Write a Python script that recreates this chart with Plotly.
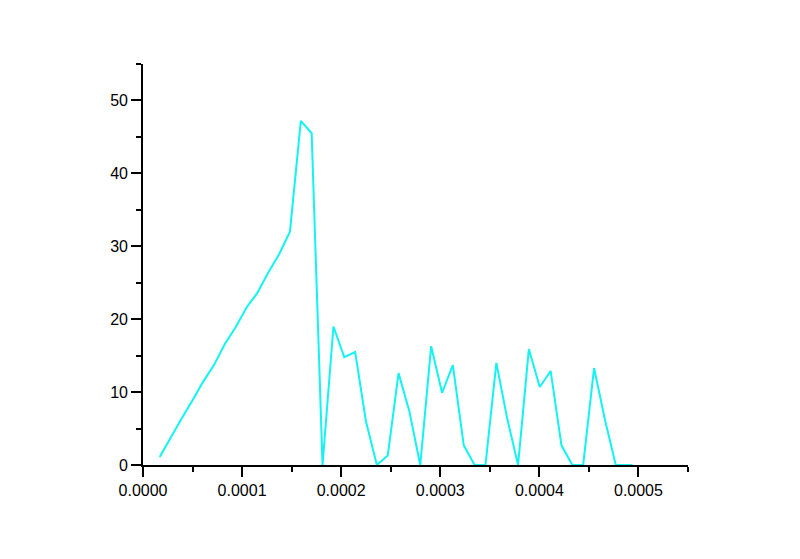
import plotly.graph_objects as go

# x positions (seconds)
x_vals = [
    0.0000168, 0.0000278, 0.0000387, 0.0000497, 0.0000606, 0.0000716,
    0.0000826, 0.0000935, 0.0001045, 0.0001154, 0.0001264, 0.0001374,
    0.0001483, 0.0001593, 0.0001702, 0.0001812, 0.0001922, 0.0002031,
    0.0002141, 0.0002250, 0.0002360, 0.0002470, 0.0002579, 0.0002689,
    0.0002798, 0.0002908, 0.0003018, 0.0003127, 0.0003237, 0.0003346,
    0.0003456, 0.0003566, 0.0003675, 0.0003785, 0.0003894, 0.0004004,
    0.0004114, 0.0004223, 0.0004333, 0.0004442, 0.0004552, 0.0004662,
    0.0004771, 0.0004940,
]
y_vals = [
    1.1, 3.8, 6.3, 8.8, 11.4, 13.7,
    16.6, 18.9, 21.6, 23.6, 26.4, 28.9,
    32.0, 47.2, 45.5, 0.0, 19.0, 14.8,
    15.5, 6.0, 0.0, 1.3, 12.6, 7.3,
    0.0, 16.3, 9.9, 13.7, 2.7, 0.0,
    0.0, 14.0, 6.4, 0.0, 15.9, 10.7,
    12.9, 2.7, 0.0, 0.0, 13.3, 6.2,
    0.0, 0.0,
]
x_ticks = [0.0, 0.0001, 0.0002, 0.0003, 0.0004, 0.0005]
x_tick_labels = ["0.0000", "0.0001", "0.0002", "0.0003", "0.0004", "0.0005"]
x_minor_ticks = [0.00005, 0.00015, 0.00025, 0.00035, 0.00045, 0.00055]
y_ticks = [0, 10, 20, 30, 40, 50]
y_minor_ticks = [5, 15, 25, 35, 45, 55]

fig = go.Figure()
fig.add_trace(go.Scatter(
    x=x_vals, y=y_vals, mode="lines",
    line=dict(color="#14F2F2", width=2),
    showlegend=False,
))

axis_common = dict(
    showline=True, linecolor="black", linewidth=1.6,
    ticks="outside", ticklen=10, tickwidth=1.6, tickcolor="black",
    showgrid=False, zeroline=False,
    tickfont=dict(family="Liberation Sans, Arial, sans-serif", size=16, color="black"),
)

fig.update_xaxes(
    range=[0, 0.00055], tickvals=x_ticks, ticktext=x_tick_labels,
    minor=dict(ticks="outside", ticklen=5, tickwidth=1.6, tickcolor="black",
               tickvals=x_minor_ticks),
    **axis_common,
)
fig.update_yaxes(
    range=[0, 55], tickvals=y_ticks,
    minor=dict(ticks="outside", ticklen=5, tickwidth=1.6, tickcolor="black",
               tickvals=y_minor_ticks),
    **axis_common,
)

fig.update_layout(
    width=800, height=559,
    margin=dict(l=135, r=120, t=56, b=102),
    plot_bgcolor="white", paper_bgcolor="white",
)

fig.write_html("out.html")
